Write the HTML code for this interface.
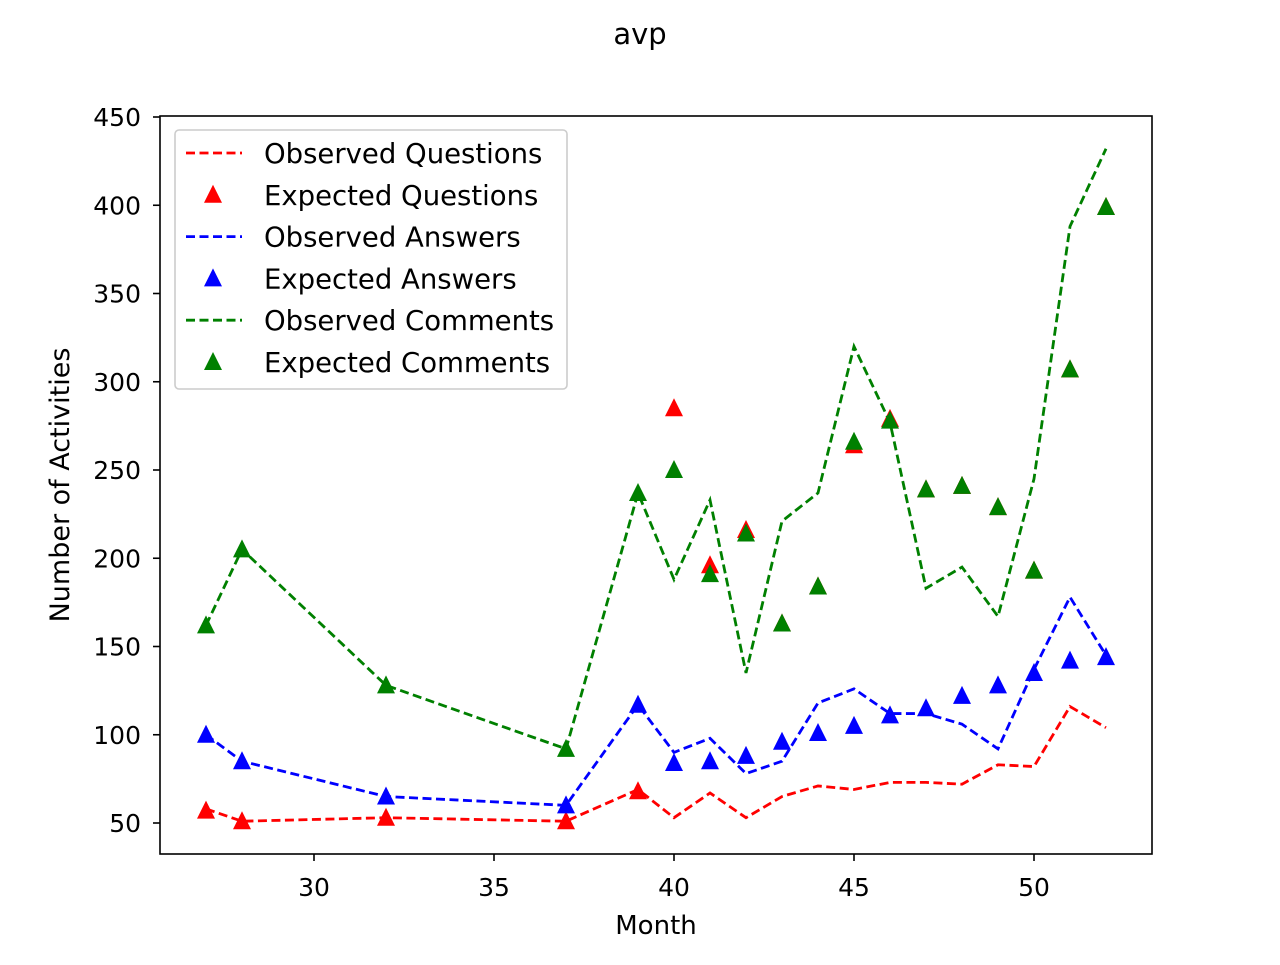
<!DOCTYPE html>
<html><head><meta charset="utf-8"><style>
body{margin:0;background:#fff;}
svg text{font-family:"DejaVu Sans","Liberation Sans",sans-serif;fill:#000;}
</style></head><body>
<svg id="chart" width="1280" height="960" xmlns="http://www.w3.org/2000/svg">
<rect width="1280" height="960" fill="#fff"/>
<text x="640" y="44" font-size="29" text-anchor="middle">avp</text>
<g id="plot"></g>
<rect x="160" y="116" width="992" height="738" fill="none" stroke="#000" stroke-width="1.6"/>
<text x="656" y="934" font-size="26" text-anchor="middle">Month</text>
<text transform="translate(69,485) rotate(-90)" font-size="27" text-anchor="middle">Number of Activities</text>
<g id="legend"></g>
</svg>
<script>
const months=[27,28,32,37,39,40,41,42,43,44,45,46,47,48,49,50,51,52];
const obsQuestions=[58,51,53,51,69,53,67,53,65,71,69,73,73,72,83,82,116,104];
const expQuestions=[57,51,53,51,68,285,196,216,163,184,264,279,239,241,229,193,307,399];
const obsAnswers=[100,85,65,60,117,90,98,78,85,118,126,112,112,106,92,137,178,145];
const expAnswers=[100,85,65,60,117,84,85,88,96,101,105,111,115,122,128,135,142,144];
const obsComments=[162,205,128,92,237,188,233,135,221,237,320,277,183,195,167,245,388,432];
const expComments=[162,205,128,92,237,250,191,214,163,184,266,278,239,241,229,193,307,399];
const xTicks=[30,35,40,45,50];
const yTicks=[50,100,150,200,250,300,350,400,450];
const NS="http://www.w3.org/2000/svg";
const xs=v=>314+(v-30)*36;
const ys=v=>823-(v-50)*1.765;
const plot=document.getElementById('plot');
function mk(tag,attrs,parent){const e=document.createElementNS(NS,tag);for(const k in attrs)e.setAttribute(k,attrs[k]);(parent||plot).appendChild(e);return e;}
xTicks.forEach(t=>{
 const l=mk('line',{x1:xs(t),x2:xs(t),y1:854,y2:861,stroke:'#000','stroke-width':1.6});
 
 
 const tx=mk('text',{x:xs(t),y:896,'font-size':25,'text-anchor':'middle'});tx.textContent=t;
 
 
});
yTicks.forEach(t=>{
 const l=mk('line',{x1:153,x2:160,y1:ys(t),y2:ys(t),stroke:'#000','stroke-width':1.6});
 
 
 const tx=mk('text',{x:141,y:ys(t)+9,'font-size':25,'text-anchor':'end'});tx.textContent=t;
 
 
});
function line(vals,color,name){
 const p=mk('polyline',{points:months.map((m,i)=>xs(m)+','+ys(vals[i])).join(' '),fill:'none',stroke:color,'stroke-width':2.8,'stroke-dasharray':'9,4.5'});
 
 
}
function tri(cx,cy,color,parent){return mk('polygon',{points:`${cx},${cy-10} ${cx-9},${cy+8} ${cx+9},${cy+8}`,fill:color},parent);}
function markers(vals,color,name){
 months.forEach((m,i)=>{const t=tri(xs(m),ys(vals[i]),color);
 
 });
}
line(obsQuestions,'#ff0000','observed-questions-line');
markers(expQuestions,'#ff0000','expected-questions-marker');
line(obsAnswers,'#0000ff','observed-answers-line');
markers(expAnswers,'#0000ff','expected-answers-marker');
line(obsComments,'#008000','observed-comments-line');
markers(expComments,'#008000','expected-comments-marker');
const lg=document.getElementById('legend');
const box=mk('rect',{x:175,y:130,width:392,height:259,rx:4,fill:'#fff','fill-opacity':0.8,stroke:'#ccc','stroke-width':1.6},lg);


const entries=[['Observed Questions','#ff0000',1],['Expected Questions','#ff0000',0],['Observed Answers','#0000ff',1],['Expected Answers','#0000ff',0],['Observed Comments','#008000',1],['Expected Comments','#008000',0]];
entries.forEach((e,i)=>{
 const y=153+i*41.8;
 const g=mk('g',{},lg);
 
 
 if(e[2]) mk('line',{x1:186,x2:242,y1:y,y2:y,stroke:e[1],'stroke-width':2.8,'stroke-dasharray':'9,4.5'},g);
 else tri(213,y,e[1],g);
 const t=mk('text',{x:264,y:y+10,'font-size':27.5},g);t.textContent=e[0];
});
</script>
</body></html>
